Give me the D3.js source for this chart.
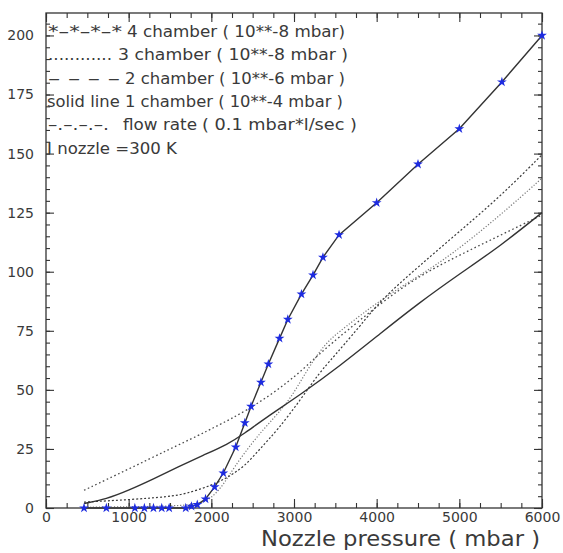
<!DOCTYPE html>
<html>
<head>
<meta charset="utf-8">
<script src="https://cdn.jsdelivr.net/npm/d3@7"></script>
<style>
body{margin:0;background:#fff;}
svg{display:block;font-family:"DejaVu Sans",sans-serif;}
.axis path{display:none;}
.axis line{stroke:#333;stroke-width:1.1;}
.axis text{fill:#3a3a3a;font-size:14px;font-family:"DejaVu Sans",sans-serif;}
.legend text{fill:#3a3a3a;font-size:15px;}
</style>
</head>
<body>
<div id="chart"></div>
<script>
/* Nozzle pressure scan: chamber pressures and flow rate vs nozzle pressure */
var xTicks=[0,1000,2000,3000,4000,5000,6000];
var yTicks=[0,25,50,75,100,125,150,175,200];

// 4 chamber (10**-8 mbar), solid line with star markers
var ch4X=[460,730,1075,1190,1300,1400,1490,1690,1760,1830,1930,2040,2145,2295,2405,2480,2600,2690,2825,2925,3090,3230,3350,3545,4000,4500,5000,5515,6000];
var ch4Y=[0,0,0,0,0,0,0,0,0.7,1.4,3.8,8.9,14.8,25.8,36,43,53.2,60.9,71.8,79.8,90.5,98.6,106.1,115.6,129.2,145.5,160.5,180.3,200];

// 3 chamber (10**-8 mbar), dotted
var ch3X=[460,1000,1500,1850,2000,2150,2270,2500,2700,2950,3150,3380,3600,4040,4500,4900,5500,6000];
var ch3Y=[0.3,0.5,0.8,1.5,4,10,17,28,36,45.6,58,70,76,88,98,107,124,139.6];

// 2 chamber (10**-6 mbar), dashed
var ch2X=[460,1000,1500,1700,2000,2200,2400,2600,2800,3075,3300,3480,3600,3800,4050,4500,5000,5500,6000];
var ch2Y=[2.5,3.5,4.8,6.1,9.5,13,17.5,25.5,33,45.6,57,64,69,77,88,102,117,132,149.5];

// 1 chamber (10**-4 mbar), solid
var ch1X=[460,730,1000,1300,1600,1900,2200,2400,2650,3100,3550,4050,4500,5000,5500,6000];
var ch1Y=[1.9,3.8,7.5,12.3,17.4,22.3,27,31.5,38,48.5,60,74,86.5,99,111,125];

// flow rate (0.1 mbar*l/sec), dash-dot
var flowX=[460,1000,1500,1860,2000,2450,2950,3300,3500,4040,4500,5000,5500,6000];
var flowY=[7.5,16.5,25,31,33.5,41.5,53.5,65,71,86.5,98,107,115.5,124];

var legendKeys=["*–*–*–*","............","– – – –","","–.–.–.–.",""];
var legendLabels=["4 chamber ( 10**-8 mbar)","3 chamber ( 10**-8 mbar )","2 chamber ( 10**-6 mbar )",
    "solid line 1 chamber ( 10**-4 mbar )","flow rate","I nozzle =300 K"];
var flowUnit="( 0.1 mbar*l/sec )";
var xTitle="Nozzle pressure ( mbar )";

(function(){
    var W=563,H=553;
    var svg=d3.select("#chart").append("svg").attr("width",W).attr("height",H);
    var x=d3.scaleLinear().domain([0,6000]).range([46,542]);
    var y=d3.scaleLinear().domain([0,209.5]).range([508,13]);

    var minorX=d3.range(0,6001,250), minorY=d3.range(0,210,5);

    /* inward ticks on all four sides */
    svg.append("g").attr("class","axis").attr("transform","translate(0,508)")
        .call(d3.axisBottom(x).tickValues(minorX).tickSize(-5).tickFormat(""));
    svg.append("g").attr("class","axis").attr("transform","translate(0,508)")
        .call(d3.axisBottom(x).tickValues(xTicks).tickSize(-9).tickPadding(4).tickFormat(d3.format("d")));
    svg.append("g").attr("class","axis").attr("transform","translate(0,13)")
        .call(d3.axisTop(x).tickValues(minorX).tickSize(-5).tickFormat(""));
    svg.append("g").attr("class","axis").attr("transform","translate(0,13)")
        .call(d3.axisTop(x).tickValues(xTicks).tickSize(-9).tickFormat(""));
    svg.append("g").attr("class","axis").attr("transform","translate(46,0)")
        .call(d3.axisLeft(y).tickValues(minorY).tickSize(-4).tickFormat(""));
    svg.append("g").attr("class","axis").attr("transform","translate(46,0)")
        .call(d3.axisLeft(y).tickValues(yTicks).tickSize(-8).tickPadding(12));
    svg.append("g").attr("class","axis").attr("transform","translate(542,0)")
        .call(d3.axisRight(y).tickValues(minorY).tickSize(-4).tickFormat(""));
    svg.append("g").attr("class","axis").attr("transform","translate(542,0)")
        .call(d3.axisRight(y).tickValues(yTicks).tickSize(-8).tickFormat(""));

    svg.append("rect").attr("x",46).attr("y",13).attr("width",496).attr("height",495)
        .attr("fill","none").attr("stroke","#333").attr("stroke-width",1.3);

    var smooth=d3.line().curve(d3.curveBasis).x(function(d){return x(d[0]);}).y(function(d){return y(d[1]);});
    var straight=d3.line().x(function(d){return x(d[0]);}).y(function(d){return y(d[1]);});
    var series=[
        {xs:flowX,ys:flowY,color:"#4a4a4a",dash:"1.6,2.6",w:1.3,ln:smooth},
        {xs:ch3X,ys:ch3Y,color:"#777",dash:"1.2,1.8",w:1.2,ln:smooth},
        {xs:ch2X,ys:ch2Y,color:"#3a3a3a",dash:"2,2",w:1.2,ln:smooth},
        {xs:ch1X,ys:ch1Y,color:"#333",dash:null,w:1.4,ln:smooth},
        {xs:ch4X,ys:ch4Y,color:"#333",dash:null,w:1.4,ln:straight}
    ];
    series.forEach(function(s){
        svg.append("path").datum(d3.zip(s.xs,s.ys)).attr("d",s.ln).attr("fill","none")
            .attr("stroke",s.color).attr("stroke-width",s.w).attr("stroke-dasharray",s.dash);
    });

    svg.selectAll("path.star").data(d3.zip(ch4X,ch4Y)).enter().append("path").attr("class","star")
        .attr("transform",function(d){return "translate("+x(d[0])+","+y(d[1])+")";})
        .attr("d",d3.symbol().type(d3.symbolStar).size(30)).attr("fill","#1d2be0");

    /* legend block, top-left inside the frame */
    var lg=svg.append("g").attr("class","legend");
    var keyLen=[74,64,72,0,61,0], labX=[127,118,125,47,123,47], labLen=[218,230,220,296,74,130];
    legendLabels.forEach(function(t,i){
        var by=37+i*23.3;
        if(legendKeys[i]) lg.append("text").attr("x",48).attr("y",by).attr("textLength",keyLen[i])
            .attr("lengthAdjust","spacingAndGlyphs").text(legendKeys[i]);
        lg.append("text").attr("x",labX[i]).attr("y",by).attr("textLength",labLen[i])
            .attr("lengthAdjust","spacingAndGlyphs").text(t);
    });
    lg.append("text").attr("x",202).attr("y",37+4*23.3).attr("textLength",155)
        .attr("lengthAdjust","spacingAndGlyphs").text(flowUnit);

    svg.append("text").attr("x",261).attr("y",546).attr("textLength",279)
        .attr("lengthAdjust","spacingAndGlyphs")
        .attr("fill","#3a3a3a").style("font-size","21.5px").text(xTitle);
})();
</script>
</body>
</html>
